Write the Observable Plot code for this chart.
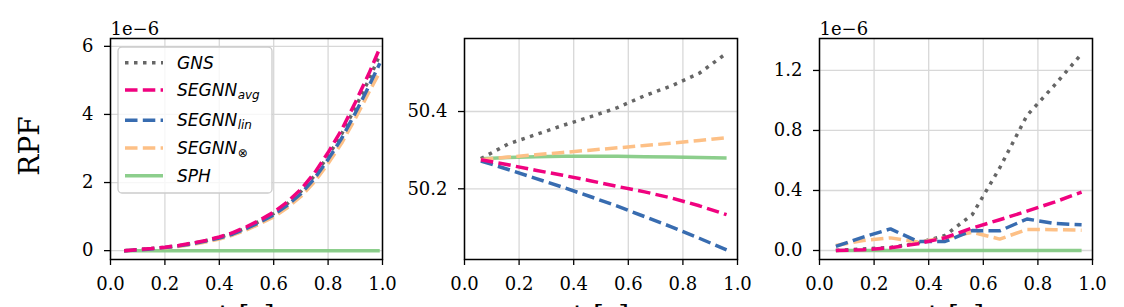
<!DOCTYPE html>
<html><head><meta charset="utf-8">
<script src="https://cdn.jsdelivr.net/npm/d3@7"></script>
<script src="https://cdn.jsdelivr.net/npm/@observablehq/plot@0.6"></script>
<style>
body{margin:0;background:#fff;}
#chart{position:relative;width:1124px;height:307px;overflow:hidden;background:#fff;}
#chart svg{position:absolute;top:0;}
</style></head><body><div id="chart"></div>
<script>
// ---------- data ----------
const seriesKeys = ["GNS", "SEGNN_avg", "SEGNN_lin", "SEGNN_tp", "SPH"];
const xTicks = [0, 0.2, 0.4, 0.6, 0.8, 1.0];

// panel 1 (values x 1e-6)
const t1 = [0.05, 0.10, 0.15, 0.20, 0.25, 0.30, 0.35, 0.40, 0.45, 0.50, 0.55, 0.60, 0.65, 0.70, 0.75, 0.80, 0.85, 0.90, 0.95, 0.99];
const p1GNS = [0, 0.03, 0.06, 0.10, 0.14, 0.21, 0.29, 0.39, 0.51, 0.67, 0.87, 1.09, 1.38, 1.74, 2.20, 2.78, 3.43, 4.20, 5.02, 5.75];
const p1Avg = [0, 0.03, 0.06, 0.10, 0.15, 0.22, 0.30, 0.40, 0.53, 0.70, 0.90, 1.13, 1.43, 1.80, 2.28, 2.88, 3.55, 4.35, 5.20, 5.95];
const p1Lin = [0, 0.02, 0.05, 0.09, 0.14, 0.20, 0.28, 0.37, 0.49, 0.65, 0.84, 1.05, 1.33, 1.67, 2.12, 2.68, 3.30, 4.04, 4.83, 5.50];
const p1Tp  = [0, 0.02, 0.04, 0.08, 0.12, 0.18, 0.25, 0.34, 0.46, 0.61, 0.79, 0.99, 1.26, 1.59, 2.02, 2.56, 3.16, 3.88, 4.65, 5.25];
const p1SPH = [0, 0, 0, 0, 0, 0, 0, 0, 0, 0, 0, 0, 0, 0, 0, 0, 0, 0, 0, 0];
const p1YTicks = [0, 2, 4, 6];

// panel 2
const t2 = [0.06, 0.16, 0.26, 0.36, 0.46, 0.56, 0.66, 0.76, 0.86, 0.96];
const p2GNS = [50.278, 50.316, 50.340, 50.364, 50.386, 50.410, 50.441, 50.467, 50.499, 50.551];
const p2Avg = [50.275, 50.262, 50.248, 50.235, 50.221, 50.206, 50.192, 50.176, 50.156, 50.133];
const p2Lin = [50.272, 50.250, 50.227, 50.204, 50.180, 50.155, 50.128, 50.101, 50.072, 50.042];
const p2Tp  = [50.275, 50.282, 50.288, 50.294, 50.300, 50.306, 50.312, 50.318, 50.325, 50.332];
const p2SPH = [50.278, 50.281, 50.283, 50.284, 50.284, 50.284, 50.283, 50.282, 50.281, 50.280];
const p2YTicks = [50.2, 50.4];

// panel 3 (values x 1e-6)
const t3 = [0.06, 0.16, 0.26, 0.36, 0.46, 0.56, 0.66, 0.76, 0.86, 0.96];
const p3GNS = [0.0, 0.01, 0.02, 0.05, 0.10, 0.24, 0.55, 0.90, 1.10, 1.31];
const p3Avg = [0.0, 0.005, 0.018, 0.045, 0.085, 0.150, 0.205, 0.262, 0.322, 0.389];
const p3Lin = [0.027, 0.089, 0.144, 0.060, 0.060, 0.133, 0.131, 0.210, 0.180, 0.172];
const p3Tp  = [0.033, 0.067, 0.084, 0.056, 0.085, 0.122, 0.076, 0.140, 0.139, 0.135];
const p3SPH = [0, 0, 0, 0, 0, 0, 0, 0, 0, 0];
const p3YTicks = [0.0, 0.4, 0.8, 1.2];

// ---------- styles ----------
const styles = {
  GNS:       {stroke: "#666666", dash: "3.5,5.5", width: 3.5},
  SEGNN_avg: {stroke: "#f0027f", dash: "12.5,5.3", width: 3.5},
  SEGNN_lin: {stroke: "#386cb0", dash: "12.5,5.3", width: 3.5},
  SEGNN_tp:  {stroke: "#fdc086", dash: "12.5,5.3", width: 3.5},
  SPH:       {stroke: "#7fc97f", dash: null, width: 3.5}
};
const drawOrder = ["SPH", "GNS", "SEGNN_tp", "SEGNN_lin", "SEGNN_avg"];

function tidy(t, arrs) {
  const out = {};
  seriesKeys.forEach((k, i) => { out[k] = t.map((x, j) => ({x, y: arrs[i][j]})); });
  return out;
}

const root = document.getElementById("chart");

function panel({left, width, mL, mR, data, yDomain, yTicks, yFormat, extra = []}) {
  const lineMarks = drawOrder.map(k => Plot.line(data[k], {
    x: "x", y: "y", stroke: styles[k].stroke, strokeWidth: styles[k].width,
    strokeDasharray: styles[k].dash || undefined, strokeLinecap: "butt",
    strokeOpacity: k === "SPH" ? 0.9 : 1
  }));
  const svg = Plot.plot({
    width, height: 307,
    marginLeft: mL, marginRight: mR, marginTop: 38, marginBottom: 48,
    style: {fontFamily: "'DejaVu Serif', serif", fontSize: "18px", background: "transparent", overflow: "visible"},
    x: {domain: [0, 1]},
    y: {domain: yDomain},
    marks: [
      Plot.gridX(xTicks, {stroke: "#d8d8d8", strokeOpacity: 1, strokeWidth: 1.3}),
      Plot.gridY(yTicks, {stroke: "#d8d8d8", strokeOpacity: 1, strokeWidth: 1.3}),
      ...lineMarks,
      Plot.frame({stroke: "#000", strokeWidth: 1.5}),
      Plot.axisX(xTicks, {label: null, tickSize: 6, tickPadding: 12, tickFormat: d3.format(".1f"), fontSize: 18, strokeWidth: 1.3, stroke: "#000", fill: "#000"}),
      Plot.axisY(yTicks, {label: null, tickSize: 6, tickPadding: 11, tickFormat: yFormat, fontSize: 18, strokeWidth: 1.3, stroke: "#000", fill: "#000"}),
      Plot.text(["t [s]"], {frameAnchor: "bottom", dy: 57, fontSize: 28, lineAnchor: "middle", fill: "#000"}),
      ...extra
    ]
  });
  svg.style.left = left + "px";
  root.appendChild(svg);
  return svg;
}

const offsetText = Plot.text(["1e\u22126"], {frameAnchor: "top-left", textAnchor: "start", lineAnchor: "bottom", dy: -4, fontSize: 18, fill: "#000"});

const s1 = panel({
  left: 0, width: 400, mL: 110, mR: 18,
  data: tidy(t1, [p1GNS, p1Avg, p1Lin, p1Tp, p1SPH]),
  yDomain: [-0.26, 6.23], yTicks: p1YTicks, yFormat: d3.format("d"),
  extra: [
    offsetText,
    Plot.text(["RPF"], {frameAnchor: "left", dx: -80, dy: -3, rotate: -90, fontSize: 28, textAnchor: "middle", lineAnchor: "middle", fill: "#000"})
  ]
});
panel({
  left: 400, width: 360, mL: 64, mR: 23,
  data: tidy(t2, [p2GNS, p2Avg, p2Lin, p2Tp, p2SPH]),
  yDomain: [50.017, 50.589], yTicks: p2YTicks, yFormat: d3.format(".1f")
});
panel({
  left: 760, width: 364, mL: 59, mR: 32,
  data: tidy(t3, [p3GNS, p3Avg, p3Lin, p3Tp, p3SPH]),
  yDomain: [-0.06, 1.413], yTicks: p3YTicks, yFormat: d3.format(".1f"),
  extra: [offsetText]
});

// ---------- legend (panel 1) ----------
const legendRows = [
  {key: "GNS", main: "GNS", sub: null, y: 62.7},
  {key: "SEGNN_avg", main: "SEGNN", sub: "avg", y: 90},
  {key: "SEGNN_lin", main: "SEGNN", sub: "lin", y: 120.3},
  {key: "SEGNN_tp", main: "SEGNN", sub: "\u2297", y: 148},
  {key: "SPH", main: "SPH", sub: null, y: 175.7}
];
const lg = d3.select(s1).append("g").attr("class", "legend").attr("text-anchor", "start");
lg.append("rect").attr("x", 118).attr("y", 47).attr("width", 154).attr("height", 146)
  .attr("rx", 4).attr("fill", "#fff").attr("fill-opacity", 0.8)
  .attr("stroke", "#cccccc").attr("stroke-width", 1.3);
legendRows.forEach(r => {
  const st = styles[r.key];
  lg.append("line").attr("x1", 125).attr("x2", 163).attr("y1", r.y).attr("y2", r.y)
    .attr("stroke", st.stroke).attr("stroke-width", st.width)
    .attr("stroke-dasharray", st.dash).attr("stroke-opacity", r.key === "SPH" ? 0.9 : 1);
  const tx = lg.append("text").attr("x", 177).attr("y", r.y + 6).attr("text-anchor", "start")
    .attr("font-family", "'DejaVu Sans', sans-serif").attr("font-style", "italic")
    .attr("font-size", 17).attr("fill", "#000").text(r.main);
  if (r.sub) {
    tx.append("tspan").attr("font-size", 12).attr("dy", 3).attr("dx", 0.5).text(r.sub);
  }
});
</script>
</body></html>
